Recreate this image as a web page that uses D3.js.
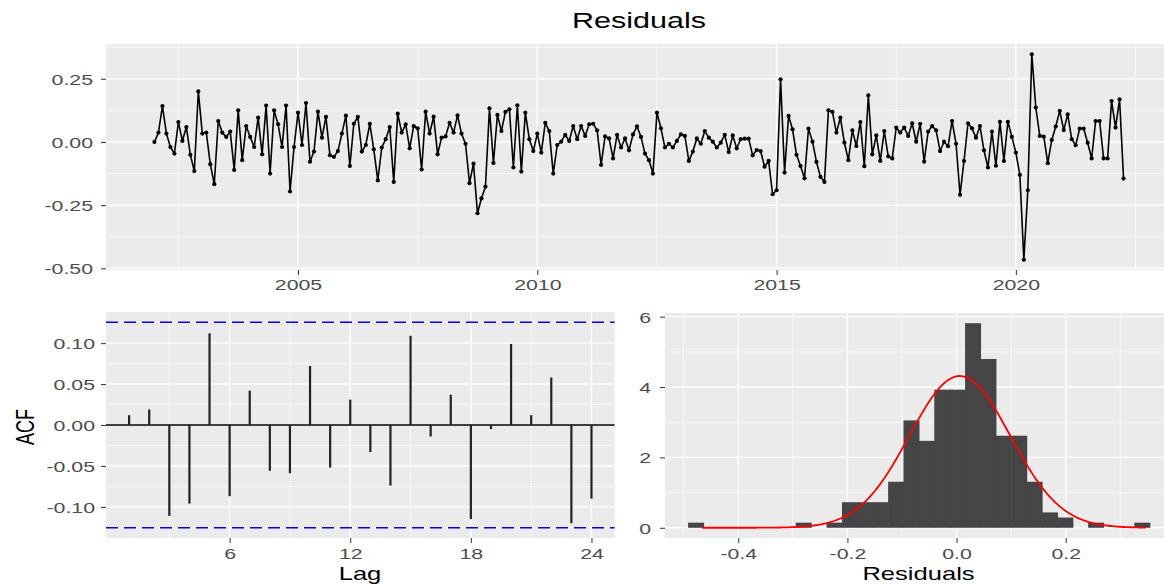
<!DOCTYPE html>
<html><head><meta charset="utf-8">
<script src="https://cdn.jsdelivr.net/npm/d3@7"></script>
<style>html,body{margin:0;padding:0;background:#fff;}svg{display:block;}</style>
</head><body>
<svg id="chart" width="1164" height="584"></svg>
<script>
// ---------------- DATA ----------------
const startYear = 2002;           // monthly series, Jan 2002 .. Apr 2022
const residuals = [
 0.00, 0.037, 0.142, 0.033, -0.02, -0.046, 0.079, 0.004, 0.059, -0.051, -0.115, 0.20,
 0.033, 0.037, -0.088, -0.167, 0.083, 0.037, 0.02, 0.041, -0.111, 0.125, -0.072, 0.063,
 0.02, -0.02, 0.096, -0.049, 0.144, -0.125, 0.125,
 0.07, -0.02, 0.144, -0.196, -0.02, 0.116, -0.012, 0.154, -0.078, -0.038, 0.12, 0.017,
 0.099, -0.053, -0.059, -0.036, 0.033, 0.104, -0.095, 0.072, 0.099, -0.038, -0.012, 0.072,
 -0.029, -0.152, -0.022, 0.011, 0.059, -0.158, 0.112,
 0.037, 0.07, -0.025, 0.063, 0.054, -0.109, 0.12, 0.033, 0.1, -0.049, 0.017, 0.022,
 0.076, 0.037, 0.105, 0.033, -0.007, -0.163, -0.086, -0.282, -0.223, -0.177, 0.133, -0.083,
 0.107, 0.043, 0.119, 0.129, -0.101, 0.145, -0.117,
 0.116, 0.011, -0.036, 0.033, -0.042, 0.076, 0.043, -0.125, -0.012, 0.001, 0.028, 0.004,
 0.063, 0.011, 0.063, 0.024, 0.07, 0.072, 0.046, -0.091, 0.022, 0.014, -0.065, 0.028,
 -0.022, 0.014, -0.033, 0.03, 0.062, 0.02, -0.046, -0.072,
 -0.125, 0.116, 0.054, -0.022, -0.007, -0.022, 0.004, 0.03, 0.024, -0.075, -0.038, 0.014,
 -0.007, 0.043, 0.017, 0.001, -0.022, -0.003, 0.028, -0.04, 0.026, -0.025, 0.011, 0.013,
 0.013, -0.053, -0.032, -0.036, -0.098, -0.075, -0.207,
 -0.191, 0.248, -0.121, 0.103, 0.05, -0.051, -0.095, -0.144, 0.053, 0.001, -0.079, -0.138,
 -0.158, 0.125, 0.119, 0.037, 0.096, -0.003, -0.072, 0.046, -0.016, 0.079, -0.096, 0.184,
 -0.049, 0.026, -0.075, 0.043, -0.057, -0.065, 0.057,
 0.037, 0.057, 0.024, 0.074, 0.001, 0.072, -0.078, 0.041, 0.063, 0.046, -0.036, 0.001,
 -0.017, 0.083, -0.007, -0.209, -0.075, 0.074, 0.054, 0.017, 0.063, -0.033, -0.101, 0.041,
 -0.094, 0.08, -0.075, 0.08, 0.02, -0.042, -0.13,
 -0.466, -0.191, 0.347, 0.136, 0.024, 0.021, -0.084, 0.008, 0.061, 0.123, 0.047, 0.109,
 0.011, -0.013, 0.053, 0.053, -0.003, -0.065, 0.083, 0.083, -0.065, -0.065, 0.162, 0.057,
 0.169, -0.145
];
const yearTicks = [2005, 2010, 2015, 2020];
const yearLabels = ["2005", "2010", "2015", "2020"];
const resTicks = [0.25, 0, -0.25, -0.5];
const resLabels = ["0.25", "0.00", "-0.25", "-0.50"];

const acfLags = [1,2,3,4,5,6,7,8,9,10,11,12,13,14,15,16,17,18,19,20,21,22,23,24];
const acfValues = [0.012, 0.019, -0.111, -0.096, 0.112, -0.087, 0.042, -0.056, -0.059, 0.072,
  -0.052, 0.031, -0.033, -0.074, 0.109, -0.014, 0.037, -0.115, -0.005, 0.099, 0.012, 0.058,
  -0.120, -0.090];
const acfCI = 0.1255;
const lagTicks = [6, 12, 18, 24];
const lagLabels = ["6", "12", "18", "24"];
const acfTicks = [0.10, 0.05, 0, -0.05, -0.10];
const acfLabels = ["0.10", "0.05", "0.00", "-0.05", "-0.10"];

const histStart = -0.492;   // first bin edge
const histWidth = 0.0282;   // bin width
const histCounts = [1,0,0,0,0,0,0,1,0,1,5,5,5,9,21,17,27,27,40,33,18,18,9,3,2,0,1,0,0,1];
const normMean = 0.006, normSd = 0.0925;
const histXTicks = [-0.4, -0.2, 0, 0.2];
const histXLabels = ["-0.4", "-0.2", "0.0", "0.2"];
const histYTicks = [0, 2, 4, 6];
const histYLabels = ["0", "2", "4", "6"];

// ---------------- STYLE ----------------
const FONT = "'Liberation Sans', Arial, Helvetica, sans-serif";
const SX = 1.42;              // horizontal stretch of the source raster text
const PANEL = "#EBEBEB";
const TICKTXT = "#4D4D4D";

const svg = d3.select("#chart");
const expand = ([a, b], f = 0.05) => [a - f * (b - a), b + f * (b - a)];

function label(x, y, str, size, opts = {}) {
  svg.append("text")
    .attr("transform", `translate(${x},${y}) scale(${SX},1)` + (opts.rotate ? " rotate(-90)" : ""))
    .attr("text-anchor", opts.anchor || "middle")
    .attr("font-family", FONT).attr("font-size", size)
    .attr("fill", opts.color || "#000").text(str);
}

function minorOf(ticks, domain) {
  const step = ticks[1] - ticks[0];
  const out = [];
  for (let v = ticks[0] - step / 2; v <= domain[1]; v += step) {
    if (v >= domain[0] && v <= domain[1]) out.push(v);
  }
  return out;
}

function panel(x, y, box) {
  const [x0, x1] = x.range(), [y0, y1] = y.range();
  const g = svg.append("g");
  g.append("rect").attr("x", x0).attr("y", y1).attr("width", x1 - x0).attr("height", y0 - y1).attr("fill", PANEL);
  const xd = x.domain(), yd = y.domain();
  const ymin = minorOf(box.yt.slice().sort((a, b) => a - b), [Math.min(...yd), Math.max(...yd)]);
  const xmin = minorOf(box.xt.slice().sort((a, b) => a - b), [Math.min(...xd), Math.max(...xd)]);
  ymin.forEach(v => g.append("line").attr("x1", x0).attr("x2", x1).attr("y1", y(v)).attr("y2", y(v)).attr("stroke", "#fff").attr("stroke-width", 0.7));
  xmin.forEach(v => g.append("line").attr("y1", y0).attr("y2", y1).attr("x1", x(v)).attr("x2", x(v)).attr("stroke", "#fff").attr("stroke-width", 0.7));
  box.yt.forEach(v => g.append("line").attr("x1", x0).attr("x2", x1).attr("y1", y(v)).attr("y2", y(v)).attr("stroke", "#fff").attr("stroke-width", 1.4));
  box.xt.forEach(v => g.append("line").attr("y1", y0).attr("y2", y1).attr("x1", x(v)).attr("x2", x(v)).attr("stroke", "#fff").attr("stroke-width", 1.4));
  return g;
}

function axes(x, y, box) {
  const [x0] = x.range(), [y0] = y.range();
  const ax = svg.append("g").attr("transform", `translate(${x0},0)`)
    .call(d3.axisLeft(y).tickValues(box.yt).tickFormat((d, i) => box.yl[i]).tickSize(5));
  ax.select(".domain").remove();
  ax.selectAll("line").attr("stroke", "#333").attr("stroke-width", 1);
  ax.selectAll("text").attr("x", null).attr("dy", null)
    .attr("transform", `translate(${-box.ygap},${box.size * 0.36}) scale(${SX},1)`)
    .attr("font-family", FONT).attr("font-size", box.size).attr("fill", TICKTXT).attr("text-anchor", "end");
  const bx = svg.append("g").attr("transform", `translate(0,${y0})`)
    .call(d3.axisBottom(x).tickValues(box.xt).tickFormat((d, i) => box.xl[i]).tickSize(5));
  bx.select(".domain").remove();
  bx.selectAll("line").attr("stroke", "#333").attr("stroke-width", 1);
  bx.selectAll("text").attr("y", null).attr("dy", null)
    .attr("transform", `translate(0,${box.xgap}) scale(${SX},1)`)
    .attr("font-family", FONT).attr("font-size", box.size).attr("fill", TICKTXT);
}

// ---------------- TOP: residual time series ----------------
const times = residuals.map((_, i) => startYear + i / 12);
const xTs = d3.scaleLinear().domain(expand(d3.extent(times))).range([106, 1172]);
const yTs = d3.scaleLinear().domain(expand(d3.extent(residuals))).range([270, 44]);
const tsBox = { xt: yearTicks, xl: yearLabels, yt: resTicks, yl: resLabels, size: 15, ygap: 13, xgap: 19.5 };
panel(xTs, yTs, tsBox);
svg.append("path").datum(residuals)
  .attr("d", d3.line().x((d, i) => xTs(times[i])).y(d => yTs(d)))
  .attr("fill", "none").attr("stroke", "#000").attr("stroke-width", 1.6).attr("stroke-linejoin", "round");
svg.append("g").selectAll("circle").data(residuals).join("circle")
  .attr("cx", (d, i) => xTs(times[i])).attr("cy", d => yTs(d)).attr("r", 2.1).attr("fill", "#000");
axes(xTs, yTs, tsBox);
label(639, 28, "Residuals", 21.5);

// ---------------- BOTTOM LEFT: ACF ----------------
const xAcf = d3.scaleLinear().domain(expand(d3.extent(acfLags))).range([106, 614.6]);
const acfLim = Math.max(acfCI, d3.max(acfValues, Math.abs));
const yAcf = d3.scaleLinear().domain(expand([-acfLim, acfLim])).range([538, 312]);
const acfBox = { xt: lagTicks, xl: lagLabels, yt: acfTicks, yl: acfLabels, size: 15, ygap: 11, xgap: 20.5 };
panel(xAcf, yAcf, acfBox);
svg.append("line").attr("x1", 106).attr("x2", 614.6).attr("y1", yAcf(0)).attr("y2", yAcf(0))
  .attr("stroke", "#000").attr("stroke-width", 1.5);
svg.append("g").selectAll("line").data(acfValues).join("line")
  .attr("x1", (d, i) => xAcf(acfLags[i])).attr("x2", (d, i) => xAcf(acfLags[i]))
  .attr("y1", yAcf(0)).attr("y2", d => yAcf(d)).attr("stroke", "#222").attr("stroke-width", 2.2);
[acfCI, -acfCI].forEach(c => svg.append("line").attr("x1", 106).attr("x2", 614.6)
  .attr("y1", yAcf(c)).attr("y2", yAcf(c)).attr("stroke", "#0000FF").attr("stroke-width", 1.6)
  .attr("stroke-dasharray", "12,6"));
axes(xAcf, yAcf, acfBox);
label(33.5, 427, "ACF", 18, { rotate: true });
label(360, 580, "Lag", 18);

// ---------------- BOTTOM RIGHT: histogram ----------------
const nObs = d3.sum(histCounts);
const bins = histCounts.map((c, i) => ({ x0: histStart + i * histWidth, x1: histStart + (i + 1) * histWidth, dens: c / (nObs * histWidth) }));
const xH = d3.scaleLinear().domain(expand([bins[0].x0, bins[bins.length - 1].x1])).range([665, 1172.8]);
const yH = d3.scaleLinear().domain(expand([0, d3.max(bins, b => b.dens)])).range([538, 313]);
const hBox = { xt: histXTicks, xl: histXLabels, yt: histYTicks, yl: histYLabels, size: 15, ygap: 14, xgap: 20.5 };
panel(xH, yH, hBox);
svg.append("g").selectAll("rect").data(bins.filter(b => b.dens > 0)).join("rect")
  .attr("x", b => xH(b.x0)).attr("width", b => xH(b.x1) - xH(b.x0) + 0.6)
  .attr("y", b => yH(b.dens)).attr("height", b => yH(0) - yH(b.dens)).attr("fill", "#454545");
const [rmin, rmax] = d3.extent(residuals);
const curve = d3.range(0, 201).map(k => {
  const v = rmin + (rmax - rmin) * k / 200;
  return [v, Math.exp(-0.5 * ((v - normMean) / normSd) ** 2) / (normSd * Math.sqrt(2 * Math.PI))];
});
svg.append("path").datum(curve).attr("d", d3.line().x(d => xH(d[0])).y(d => yH(d[1])))
  .attr("fill", "none").attr("stroke", "#FF0000").attr("stroke-width", 1.8);
axes(xH, yH, hBox);
label(918.5, 580, "Residuals", 18);
</script>
</body></html>
